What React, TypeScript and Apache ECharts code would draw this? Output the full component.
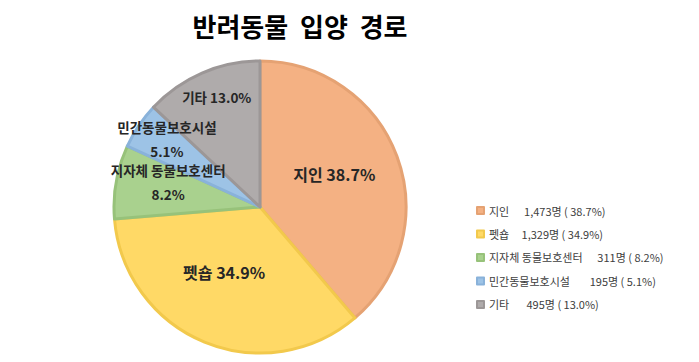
import React, { useEffect, useRef } from "react";
import * as echarts from "echarts";

const categories = ["지인", "펫숍", "지자체 동물보호센터", "민간동물보호시설", "기타"];
const counts = [1473, 1329, 311, 195, 495];
const percents = [38.7, 34.9, 8.2, 5.1, 13.0];
const legendSpacing = ["      ", "     ", "      ", "        ", "       "];
const colors = ["#F4B183", "#FFD966", "#A9D18E", "#9DC3E6", "#AFABAB"];
const borderColors = ["#E5A273", "#F2C94C", "#97C27A", "#89B2DA", "#9C9797"];
const labelOffsets = [[3, -7], [-7, -5], [-17, -12], [-30, -26], [-13, -40]];

export default function App() {
  const ref = useRef<HTMLDivElement>(null);
  useEffect(() => {
    const chart = echarts.init(ref.current!, null, { renderer: "svg" });
    const font = "'Noto Sans CJK KR', 'Noto Sans', sans-serif";
    chart.setOption({
      animation: false,
      title: {
        text: "반려동물  입양  경로",
        left: 295,
        textAlign: "center",
        top: 7,
        textStyle: { fontFamily: font, fontSize: 26, fontWeight: "bold", color: "#000" },
      },
      legend: {
        orient: "vertical",
        left: 471,
        top: 200,
        itemWidth: 7,
        itemHeight: 7,
        itemGap: 12.5,
        icon: "rect",
        data: categories,
        textStyle: { fontFamily: font, fontSize: 11, color: "#404040" },
        formatter: (name: string) => {
          const i = categories.indexOf(name);
          return `${name}${legendSpacing[i]}${counts[i].toLocaleString("en-US")}명 ( ${percents[i].toFixed(1)}%)`;
        },
      },
      series: [
        {
          type: "pie",
          center: [260, 207],
          radius: [0, 146],
          startAngle: 90,
          clockwise: true,
          label: {
            position: "inside",
            fontFamily: font,
            fontWeight: "bold",
            color: "#262626",
            lineHeight: 24,
            formatter: (p: any) => {
              const i = p.dataIndex;
              if (i === 2 || i === 3) return `${categories[i]}\n${percents[i].toFixed(1)}%`;
              return `${categories[i]} ${percents[i].toFixed(1)}%`;
            },
          },
          labelLayout: (p: any) => ({ dx: labelOffsets[p.dataIndex][0], dy: labelOffsets[p.dataIndex][1] }),
          data: categories.map((c, i) => ({
            name: c,
            value: counts[i],
            itemStyle: { color: colors[i], borderColor: borderColors[i], borderWidth: 3 },
            label: { fontSize: i < 2 ? 16 : 13.5 },
          })),
        },
      ],
    });
    return () => chart.dispose();
  }, []);
  return <div ref={ref} style={{ position: "absolute", left: 0, top: 0, width: 699, height: 362 }} />;
}
